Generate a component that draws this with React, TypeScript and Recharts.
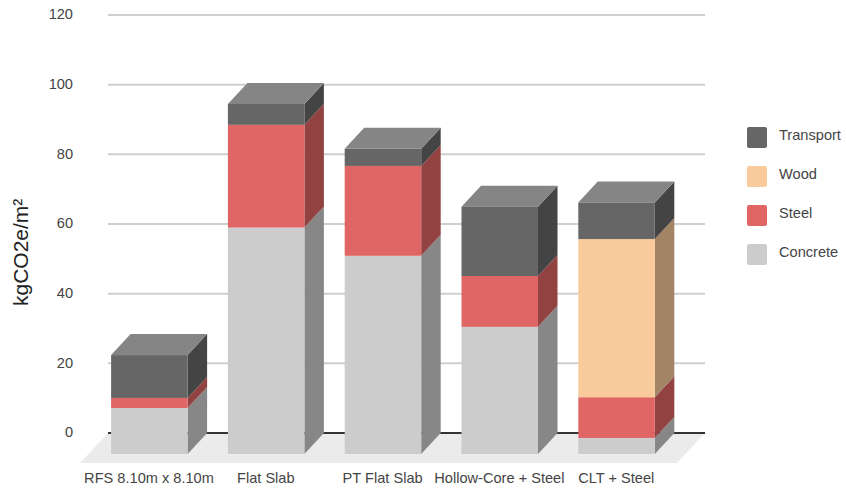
import React from "react";
import { BarChart, Bar, XAxis, YAxis, CartesianGrid, ReferenceArea, Legend } from "recharts";

const categories = ["RFS 8.10m x 8.10m", "Flat Slab", "PT Flat Slab", "Hollow-Core + Steel", "CLT + Steel"];
const concrete = [13.2, 65, 56.9, 36.5, 4.6];
const steel = [2.9, 29.5, 25.8, 14.6, 11.7];
const wood = [0, 0, 0, 0, 45.4];
const transport = [12.3, 6, 4.9, 19.9, 10.5];
const yTicks = [0, 20, 40, 60, 80, 100, 120];
const gridValues = [20, 40, 60, 80, 100, 120];

const tableRows = categories.map((name, i) => ({
  name,
  Concrete: concrete[i],
  Steel: steel[i],
  Wood: wood[i],
  Transport: transport[i],
}));

// Depth of the extrusion: each box front sits this far down and left of its back face.
const DX = 19.5;
const DY = 21;
const PAD_LEFT = 2.6;
const PAD_RIGHT = 10.4;
const FONT = "'Liberation Sans', Arial, sans-serif";

const pts = (list: number[][]) => list.map((p) => p.join(",")).join(" ");

type BoxProps = { x?: number; y?: number; width?: number; height?: number };

const makeBox = (front: string, side: string, top?: string) => (props: BoxProps) => {
  const { x = 0, y = 0, width = 0, height = 0 } = props;
  if (!(height > 0)) return <g />;
  const fx = x - DX;
  const fy = y + DY;
  return (
    <g>
      <polygon
        points={pts([
          [fx + width, fy],
          [x + width, y],
          [x + width, y + height],
          [fx + width, fy + height],
        ])}
        fill={side}
      />
      {top && (
        <polygon
          points={pts([
            [fx, fy],
            [x, y],
            [x + width, y],
            [fx + width, fy],
          ])}
          fill={top}
        />
      )}
      <rect x={fx} y={fy} width={width} height={height} fill={front} />
    </g>
  );
};

// Floor slab under the boxes, projected forward from the zero line across the full plot width.
const Floor = (props: BoxProps) => {
  const { x = 0, y = 0, width = 0, height = 0 } = props;
  const base = y + height;
  const left = x - PAD_LEFT;
  const right = x + width + PAD_RIGHT;
  return (
    <g>
      <polygon
        points={pts([
          [left, base],
          [right, base],
          [right - 28, base + 30],
          [left - 28, base + 30],
        ])}
        fill="#ebebeb"
      />
      <line x1={left} x2={right} y1={base} y2={base} stroke="#333333" strokeWidth={2} />
    </g>
  );
};

const legendColors = [
  ["Transport", "#666666"],
  ["Wood", "#f9cb9c"],
  ["Steel", "#e06666"],
  ["Concrete", "#cccccc"],
];

const LegendList = () => (
  <div style={{ fontFamily: FONT, fontSize: 14.6, color: "#444444" }}>
    {legendColors.map(([label, color]) => (
      <div key={label} style={{ display: "flex", alignItems: "flex-start", height: 39 }}>
        <span
          style={{
            width: 20,
            height: 21,
            background: color,
            borderRadius: 2,
            marginRight: 12,
          }}
        />
        <span style={{ lineHeight: "16px" }}>{label}</span>
      </div>
    ))}
  </div>
);

export default function App() {
  return (
    <div style={{ position: "absolute", left: 0, top: 0 }}>
      <BarChart
        width={846}
        height={489}
        data={tableRows}
        margin={{ top: 15, right: 42, bottom: 26, left: 0 }}
        barSize={76.5}
      >
        <CartesianGrid horizontal vertical={false} horizontalValues={gridValues} stroke="#cfcfcf" strokeWidth={2} />
        <ReferenceArea y1={0} y2={120} shape={Floor as any} fill="none" ifOverflow="visible" />
        <XAxis
          dataKey="name"
          axisLine={false}
          tickLine={false}
          padding={{ left: PAD_LEFT, right: PAD_RIGHT }}
          interval={0}
          dx={-DX - 0.5}
          dy={32}
          tick={{ fontFamily: FONT, fontSize: 14.6, fill: "#444444" }}
        />
        <YAxis
          domain={[0, 120]}
          ticks={yTicks}
          width={108}
          axisLine={false}
          tickLine={false}
          tickMargin={29}
          dy={-1}
          tick={{ fontFamily: FONT, fontSize: 14.6, fill: "#444444" }}
          label={{
            value: "kgCO2e/m²",
            angle: -90,
            position: "insideLeft",
            offset: 0,
            dx: 21,
            dy: 82,
            style: { fontFamily: FONT, fontSize: 21, fill: "#222222" },
          }}
        />
        <Legend
          layout="vertical"
          align="right"
          verticalAlign="top"
          content={<LegendList />}
          wrapperStyle={{ position: "absolute", left: 747, top: 127, width: 99 }}
        />
        <Bar dataKey="Concrete" stackId="a" fill="#cccccc" isAnimationActive={false} shape={makeBox("#cccccc", "#878787") as any} />
        <Bar dataKey="Steel" stackId="a" fill="#e06666" isAnimationActive={false} shape={makeBox("#e06666", "#934242") as any} />
        <Bar dataKey="Wood" stackId="a" fill="#f9cb9c" isAnimationActive={false} shape={makeBox("#f9cb9c", "#a38465") as any} />
        <Bar dataKey="Transport" stackId="a" fill="#666666" isAnimationActive={false} shape={makeBox("#666666", "#444444", "#858585") as any} />
      </BarChart>
    </div>
  );
}
